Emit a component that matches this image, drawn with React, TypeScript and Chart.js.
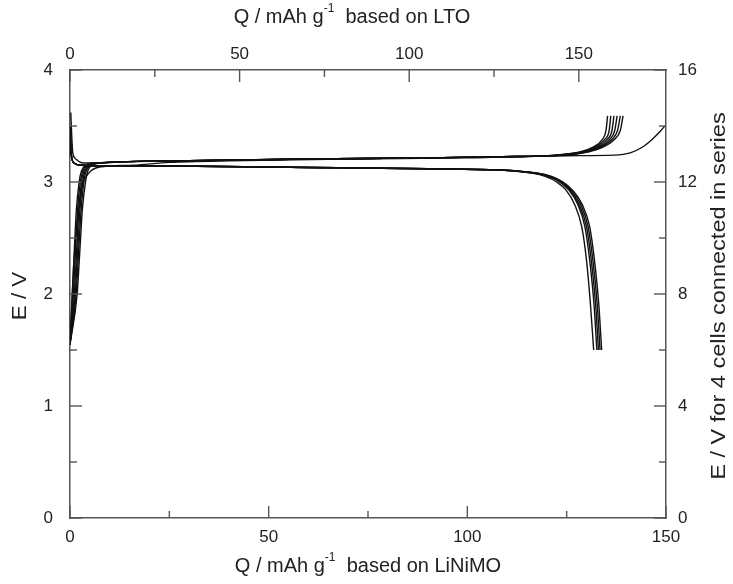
import React, { useEffect, useRef } from "react";
import { Chart, registerables } from "chart.js";
Chart.register(...registerables);

// ---- Data ----
// Charge curves: shared voltage steps (V), capacity per cycle (mAh/g based on LiNiMO)
const chargeVoltage = [1.55, 2.0, 2.4, 2.75, 3.0, 3.1, 3.15, 3.17, 3.19, 3.205, 3.215, 3.226, 3.24, 3.27, 3.31, 3.38, 3.46, 3.59];
const chargeCapA = [0, 0.6, 1.1, 1.6, 2.3, 2.9, 4.0, 6.0, 30, 60, 90, 108, 122, 128.5, 131.5, 134.0, 134.9, 135.3];
const chargeCapB = [0, 0.85, 1.4, 1.9, 2.6, 3.2, 4.3, 6.4, 30, 60, 90, 108, 122.5, 129.0, 132.0, 134.6, 135.7, 136.1];
const chargeCapC = [0, 1.1, 1.7, 2.2, 2.9, 3.5, 4.6, 6.8, 30, 60, 90, 108, 123, 129.4, 132.5, 135.2, 136.4, 136.9];
const chargeCapD = [0, 1.3, 1.95, 2.5, 3.2, 3.8, 4.9, 7.2, 30, 60, 90, 108, 123.5, 129.8, 133.0, 135.8, 137.1, 137.7];
const chargeCapE = [0, 1.55, 2.2, 2.8, 3.5, 4.1, 5.2, 7.6, 30, 60, 90, 108, 124, 130.2, 133.5, 136.4, 137.8, 138.5];
const chargeCapF = [0, 1.8, 2.5, 3.1, 3.9, 4.5, 5.5, 8.0, 30, 60, 90, 108, 124.5, 130.6, 134.0, 137.0, 138.5, 139.2];

// First (long) charge curve
const firstChargeCap = [0, 1.0, 2.5, 3.2, 4.1, 5.3, 6.5, 9.1, 16, 25, 40, 70, 100, 125, 137, 141, 144, 146.5, 148.5, 149.7];
const firstChargeVoltage = [1.55, 2.3, 2.84, 2.99, 3.05, 3.1, 3.125, 3.14, 3.15, 3.175, 3.19, 3.205, 3.215, 3.235, 3.24, 3.26, 3.31, 3.38, 3.45, 3.5];

// Relaxation curve at the start (drop from ~3.6 V)
const relaxCap = [0.2, 0.45, 0.7, 1.1, 1.6, 2.4, 3.4, 6.0];
const relaxVoltage = [3.62, 3.4, 3.26, 3.22, 3.2, 3.18, 3.17, 3.17];

// Discharge curves
const dischargeVoltage = [3.5, 3.25, 3.17, 3.15, 3.145, 3.14, 3.13, 3.118, 3.107, 3.095, 3.08, 3.05, 3.0, 2.93, 2.8, 2.6, 2.3, 1.9, 1.5];
const dischargeCap1 = [0, 0.3, 1, 3, 10, 32, 60, 90, 108, 112.5, 116, 119.6, 122.5, 124.8, 127.0, 128.8, 130.0, 131.0, 131.8];
const dischargeCap2 = [0, 0.3, 1, 3, 10, 32, 60, 90, 108, 113, 116.6, 120.3, 123.2, 125.5, 127.8, 129.6, 130.8, 131.9, 132.6];
const dischargeCap3 = [0, 0.3, 1, 3, 10, 32, 60, 90, 108, 113.3, 116.9, 120.6, 123.5, 125.8, 128.1, 130.0, 131.2, 132.3, 133.0];
const dischargeCap4 = [0, 0.3, 1, 3, 10, 32, 60, 90, 108, 113.6, 117.2, 120.9, 123.8, 126.1, 128.5, 130.4, 131.6, 132.7, 133.4];
const dischargeCap5 = [0, 0.3, 1, 3, 10, 32, 60, 90, 108, 113.9, 117.5, 121.2, 124.1, 126.4, 128.9, 130.8, 132.0, 133.1, 133.8];

// Axes
const bottomRange = [0, 150];
const topRange = [0, 175.7];
const leftRange = [0, 4];
const rightRange = [0, 16];
const bottomMajor = [0, 50, 100, 150];
const bottomMinor = [25, 75, 125];
const topMajor = [0, 50, 100, 150];
const topMinor = [25, 75, 125];
const leftMajor = [0, 1, 2, 3, 4];
const leftMinor = [0.5, 1.5, 2.5, 3.5];
const rightMajor = [0, 4, 8, 12, 16];
const rightMinor = [2, 6, 10, 14];

const topTitle = ["Q / mAh g", "-1", "  based on LTO"];
const bottomTitle = ["Q / mAh g", "-1", "  based on LiNiMO"];
const leftTitle = "E / V";
const rightTitle = "E / V for 4 cells connected in series";

const FONT = "'Liberation Sans', Arial, Helvetica, sans-serif";
const AXIS_COLOR = "#555";
const LINE_COLOR = "#111";
const TEXT_COLOR = "#222";

function zip(xs: number[], ys: number[]) {
  return xs.map((x, i) => ({ x, y: ys[i] }));
}

const inwardTicks = {
  id: "inwardTicks",
  afterDatasetsDraw(chart: any) {
    const { ctx, chartArea: a, scales } = chart;
    const MAJ = 12, MIN = 7;
    ctx.save();
    ctx.strokeStyle = AXIS_COLOR;
    ctx.lineWidth = 1.4;
    const line = (x1: number, y1: number, x2: number, y2: number) => {
      ctx.beginPath(); ctx.moveTo(x1, y1); ctx.lineTo(x2, y2); ctx.stroke();
    };
    bottomMajor.forEach(v => { const p = scales.x.getPixelForValue(v); line(p, a.bottom, p, a.bottom - MAJ); });
    bottomMinor.forEach(v => { const p = scales.x.getPixelForValue(v); line(p, a.bottom, p, a.bottom - MIN); });
    topMajor.forEach(v => { const p = scales.x2.getPixelForValue(v); line(p, a.top, p, a.top + MAJ); });
    topMinor.forEach(v => { const p = scales.x2.getPixelForValue(v); line(p, a.top, p, a.top + MIN); });
    leftMajor.forEach(v => { const p = scales.y.getPixelForValue(v); line(a.left, p, a.left + MAJ, p); });
    leftMinor.forEach(v => { const p = scales.y.getPixelForValue(v); line(a.left, p, a.left + MIN, p); });
    rightMajor.forEach(v => { const p = scales.y2.getPixelForValue(v); line(a.right, p, a.right - MAJ, p); });
    rightMinor.forEach(v => { const p = scales.y2.getPixelForValue(v); line(a.right, p, a.right - MIN, p); });
    ctx.restore();
  },
};

function drawRich(ctx: CanvasRenderingContext2D, parts: string[], cx: number, cy: number, size: number) {
  const main = `${size}px ${FONT}`;
  const sup = `${Math.round(size * 0.62)}px ${FONT}`;
  ctx.font = main; const w0 = ctx.measureText(parts[0]).width; const w2 = ctx.measureText(parts[2]).width;
  ctx.font = sup; const w1 = ctx.measureText(parts[1]).width;
  let x = cx - (w0 + w1 + w2) / 2;
  ctx.textBaseline = "middle"; ctx.textAlign = "left";
  ctx.font = main; ctx.fillText(parts[0], x, cy); x += w0;
  ctx.font = sup; ctx.fillText(parts[1], x, cy - size * 0.4); x += w1;
  ctx.font = main; ctx.fillText(parts[2], x, cy);
}

const titles = {
  id: "titles",
  afterDraw(chart: any) {
    const { ctx, chartArea: a } = chart;
    ctx.save();
    ctx.fillStyle = TEXT_COLOR;
    drawRich(ctx, topTitle, 352, 17, 20);
    drawRich(ctx, bottomTitle, 368, 566, 20);
    ctx.font = `20px ${FONT}`;
    ctx.textAlign = "center"; ctx.textBaseline = "middle";
    ctx.save(); ctx.translate(20, 296); ctx.rotate(-Math.PI / 2); ctx.scale(1.12, 1); ctx.fillText(leftTitle, 0, 0); ctx.restore();
    ctx.save(); ctx.translate(719, 296); ctx.rotate(-Math.PI / 2); ctx.scale(1.12, 1); ctx.font = `21px ${FONT}`; ctx.fillText(rightTitle, 0, 0); ctx.restore();
    ctx.restore();
  },
};

export default function App() {
  const ref = useRef<HTMLCanvasElement | null>(null);
  useEffect(() => {
    document.body.style.margin = "0";
    const curves: { x: number; y: number }[][] = [
      zip(chargeCapA, chargeVoltage),
      zip(chargeCapB, chargeVoltage),
      zip(chargeCapC, chargeVoltage),
      zip(chargeCapD, chargeVoltage),
      zip(chargeCapE, chargeVoltage),
      zip(chargeCapF, chargeVoltage),
      zip(firstChargeCap, firstChargeVoltage),
      zip(relaxCap, relaxVoltage),
      zip(dischargeCap1, dischargeVoltage),
      zip(dischargeCap2, dischargeVoltage),
      zip(dischargeCap3, dischargeVoltage),
      zip(dischargeCap4, dischargeVoltage),
      zip(dischargeCap5, dischargeVoltage),
    ];
    const tickFont = { family: FONT, size: 17 };
    const chart = new Chart(ref.current!, {
      type: "line",
      data: {
        datasets: curves.map(d => ({
          data: d,
          borderColor: LINE_COLOR,
          borderWidth: 1.4,
          pointRadius: 0,
          fill: false,
          cubicInterpolationMode: "monotone" as const,
          xAxisID: "x",
          yAxisID: "y",
        })),
      },
      options: {
        animation: false,
        responsive: false,
        layout: { padding: 0 },
        plugins: { legend: { display: false }, tooltip: { enabled: false } },
        scales: {
          x: {
            type: "linear", position: "bottom", min: bottomRange[0], max: bottomRange[1],
            grid: { display: false },
            border: { display: true, color: AXIS_COLOR, width: 1.5 },
            ticks: { font: tickFont, color: TEXT_COLOR, padding: 1, maxRotation: 0 },
            afterBuildTicks: (s: any) => { s.ticks = bottomMajor.map(v => ({ value: v })); },
            afterFit: (s: any) => { s.height = 66; },
          },
          x2: {
            type: "linear", position: "top", min: topRange[0], max: topRange[1],
            grid: { display: false },
            border: { display: true, color: AXIS_COLOR, width: 1.5 },
            ticks: { font: tickFont, color: TEXT_COLOR, padding: -3, maxRotation: 0 },
            afterBuildTicks: (s: any) => { s.ticks = topMajor.map(v => ({ value: v })); },
            afterFit: (s: any) => { s.height = 70; },
          },
          y: {
            type: "linear", position: "left", min: leftRange[0], max: leftRange[1],
            grid: { display: false },
            border: { display: true, color: AXIS_COLOR, width: 1.5 },
            ticks: { font: tickFont, color: TEXT_COLOR, padding: 9 },
            afterBuildTicks: (s: any) => { s.ticks = leftMajor.map(v => ({ value: v })); },
            afterFit: (s: any) => { s.width = 70; },
          },
          y2: {
            type: "linear", position: "right", min: rightRange[0], max: rightRange[1],
            grid: { display: false },
            border: { display: true, color: AXIS_COLOR, width: 1.5 },
            ticks: { font: tickFont, color: TEXT_COLOR, padding: 4 },
            afterBuildTicks: (s: any) => { s.ticks = rightMajor.map(v => ({ value: v })); },
            afterFit: (s: any) => { s.width = 67; },
          },
        },
      } as any,
      plugins: [inwardTicks, titles],
    });
    return () => chart.destroy();
  }, []);
  return (
    <div style={{ width: 733, height: 584 }}>
      <canvas ref={ref} width={733} height={584} style={{ display: "block", width: 733, height: 584 }} />
    </div>
  );
}
